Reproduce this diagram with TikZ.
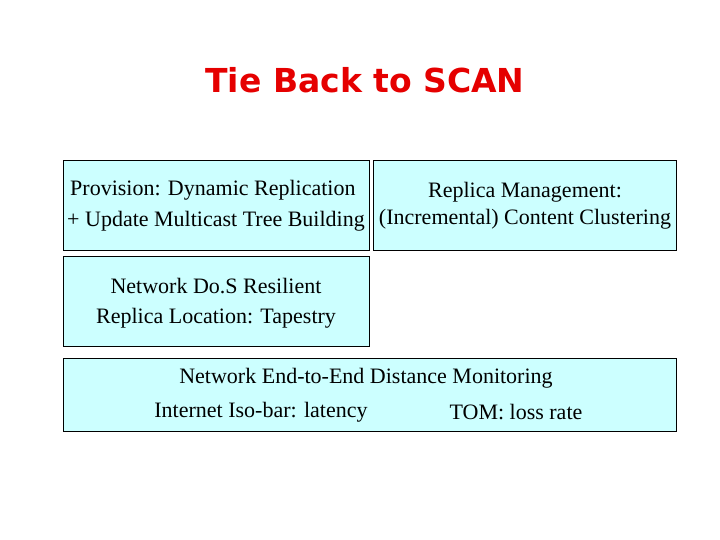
\documentclass[tikz,border=0pt]{standalone}
\usepackage{fontspec}
\setmainfont{Liberation Serif}
\newfontfamily\titlefont{DejaVu Sans}
\definecolor{boxc}{HTML}{CCFFFF}
\begin{document}
\begin{tikzpicture}[x=1pt,y=-1pt,
 box/.style={draw=black,fill=boxc,line width=0.8pt},
 txt/.style={font=\fontsize{22}{25}\selectfont,inner sep=0pt}]
\useasboundingbox (0,0) rectangle (720,540);
\node[font=\titlefont\bfseries\fontsize{33}{38}\selectfont,text=red!90!black] (title) at (365,80) {Tie Back to SCAN};
\draw[box] (63,160) rectangle (369,250);
\draw[box] (373,160) rectangle (676,250);
\draw[box] (63,256) rectangle (369,346);
\draw[box] (63,358) rectangle (676,431);
\node[txt,anchor=west] (a1) at (70,190) {Provision: Dynamic Replication};
\node[txt] (a2) at (216,221) {+ Update Multicast Tree Building};
\node[txt] (b1) at (525,192) {Replica Management:};
\node[txt] (b2) at (525,219) {(Incremental) Content Clustering};
\node[txt] (c1) at (216,286) {Network Do.S Resilient};
\node[txt] (c2) at (216,318) {Replica Location: Tapestry};
\node[txt] (d1) at (366,378) {Network End-to-End Distance Monitoring};
\node[txt] (d2) at (261,412) {Internet Iso-bar: latency};
\node[txt] (d3) at (516,412) {TOM: loss rate};
\end{tikzpicture}
\end{document}
